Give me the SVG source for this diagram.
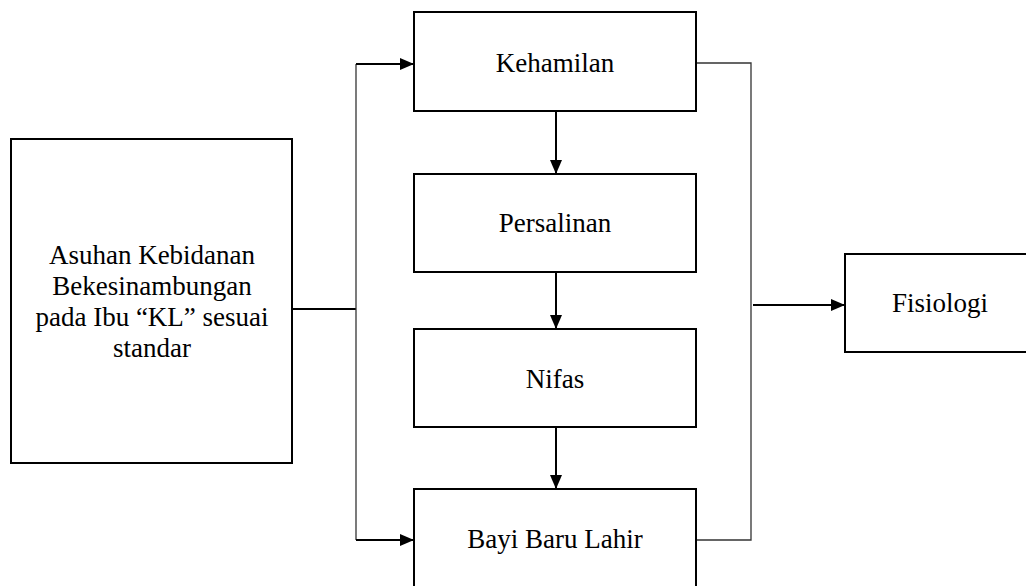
<svg xmlns="http://www.w3.org/2000/svg" width="1026" height="586" viewBox="0 0 1026 586">
<style>
.box{fill:#fff;stroke:#000;stroke-width:2}
.t{font-family:"Liberation Serif","Times New Roman",serif;font-size:27px;fill:#000;text-anchor:middle}
.thick{stroke:#000;stroke-width:2;fill:none}
.thin{stroke:#333;stroke-width:1.3;fill:none}
</style>
<defs>
<marker id="ah" markerWidth="14" markerHeight="12" refX="14" refY="6" orient="auto" markerUnits="userSpaceOnUse">
<path d="M0,0 L14,6 L0,12 Z" fill="#000"/>
</marker>
</defs>
<rect width="1026" height="586" fill="#fff"/>
<g id="connectors">
<line class="thick" x1="292" y1="309" x2="356" y2="309"/>
<line class="thin" x1="356" y1="64" x2="356" y2="540"/>
<line class="thick" x1="356" y1="64" x2="414" y2="64" marker-end="url(#ah)"/>
<line class="thick" x1="356" y1="540" x2="414" y2="540" marker-end="url(#ah)"/>
<line class="thick" x1="556" y1="111" x2="556" y2="174" marker-end="url(#ah)"/>
<line class="thick" x1="556" y1="272" x2="556" y2="329" marker-end="url(#ah)"/>
<line class="thick" x1="556" y1="427" x2="556" y2="489" marker-end="url(#ah)"/>
<polyline class="thin" points="696,63 751,63 751,540 696,540"/>
<line class="thick" x1="753" y1="305" x2="845" y2="305" marker-end="url(#ah)"/>
</g>
<g id="node-asuhan">
<rect class="box" x="11" y="139" width="281" height="324"/>
<text class="t" x="152" y="264">Asuhan Kebidanan</text>
<text class="t" x="152" y="295">Bekesinambungan</text>
<text class="t" x="152" y="326">pada Ibu “KL” sesuai</text>
<text class="t" x="152" y="357">standar</text>
</g>
<g id="node-kehamilan">
<rect class="box" x="414" y="12" width="282" height="99"/>
<text class="t" x="555" y="72">Kehamilan</text>
</g>
<g id="node-persalinan">
<rect class="box" x="414" y="174" width="282" height="98"/>
<text class="t" x="555" y="232">Persalinan</text>
</g>
<g id="node-nifas">
<rect class="box" x="414" y="329" width="282" height="98"/>
<text class="t" x="555" y="388">Nifas</text>
</g>
<g id="node-bayi">
<rect class="box" x="414" y="489" width="282" height="110"/>
<text class="t" x="555" y="548">Bayi Baru Lahir</text>
</g>
<g id="node-fisiologi">
<rect class="box" x="845" y="254" width="190" height="98"/>
<text class="t" x="940" y="312">Fisiologi</text>
</g>
</svg>
